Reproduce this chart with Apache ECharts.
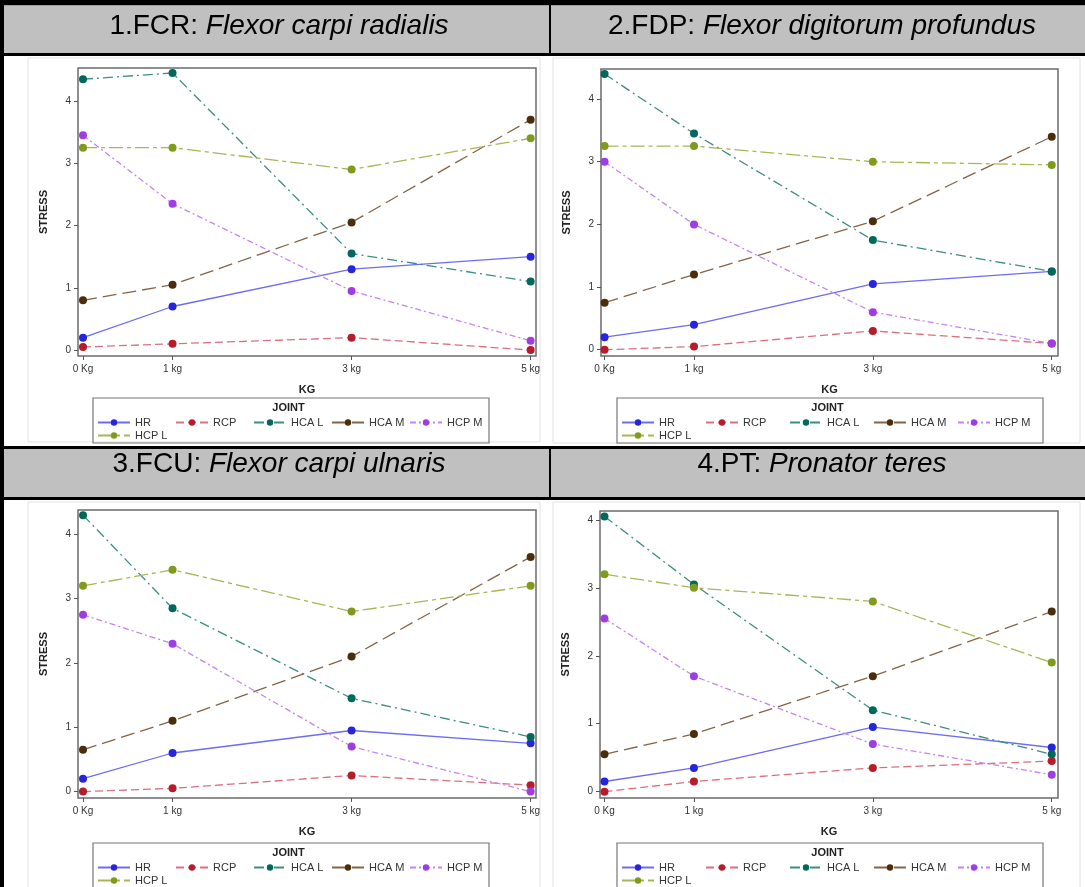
<!DOCTYPE html>
<html>
<head>
<meta charset="utf-8">
<title>Stress by joint and load</title>
<script src="https://cdn.jsdelivr.net/npm/echarts@6/dist/echarts.min.js"></script>
<style>
  html, body { margin: 0; padding: 0; background: #fff; }
  #chart { width: 1085px; height: 887px; }
</style>
</head>
<body>
<div id="chart"></div>
<script>
// loads on the x axis and their tick labels
var loads = [0, 1, 3, 5];
var loadLabels = ['0 Kg', '1 kg', '3 kg', '5 kg'];
var stressTicks = [0, 1, 2, 3, 4];
var joints = ['HR', 'RCP', 'HCA L', 'HCA M', 'HCP M', 'HCP L'];

// stress per joint (rows follow joints), one value per load
var fcrStress = [
  [0.2, 0.7, 1.3, 1.5],
  [0.05, 0.1, 0.2, 0.0],
  [4.35, 4.45, 1.55, 1.1],
  [0.8, 1.05, 2.05, 3.7],
  [3.45, 2.35, 0.95, 0.15],
  [3.25, 3.25, 2.9, 3.4]
];
var fdpStress = [
  [0.2, 0.4, 1.05, 1.25],
  [0.0, 0.05, 0.3, 0.1],
  [4.4, 3.45, 1.75, 1.25],
  [0.75, 1.2, 2.05, 3.4],
  [3.0, 2.0, 0.6, 0.1],
  [3.25, 3.25, 3.0, 2.95]
];
var fcuStress = [
  [0.2, 0.6, 0.95, 0.75],
  [0.0, 0.05, 0.25, 0.1],
  [4.3, 2.85, 1.45, 0.85],
  [0.65, 1.1, 2.1, 3.65],
  [2.75, 2.3, 0.7, 0.0],
  [3.2, 3.45, 2.8, 3.2]
];
var ptStress = [
  [0.15, 0.35, 0.95, 0.65],
  [0.0, 0.15, 0.35, 0.45],
  [4.05, 3.05, 1.2, 0.55],
  [0.55, 0.85, 1.7, 2.65],
  [2.55, 1.7, 0.7, 0.25],
  [3.2, 3.0, 2.8, 1.9]
];

var muscleCodes = ['1.FCR: ', '2.FDP: ', '3.FCU: ', '4.PT: '];
var muscleNames = ['Flexor carpi radialis', 'Flexor digitorum profundus', 'Flexor carpi ulnaris', 'Pronator teres'];

// layout of the four cells
var panels = [
  {stress: fcrStress, grid: [78, 68, 458, 288], x: [-0.056, 5.06], y: [-0.095, 4.53], legend: [93, 398], textW: 38, title: [279, 26], frame: [28, 58, 512, 384]},
  {stress: fdpStress, grid: [601, 69, 457, 287], x: [-0.04, 5.07], y: [-0.1, 4.48], legend: [617, 398], textW: 44, title: [822, 26], frame: [553, 58, 527, 385]},
  {stress: fcuStress, grid: [78, 510, 458, 288], x: [-0.056, 5.06], y: [-0.1, 4.38], legend: [93, 843], textW: 38, title: [279, 464], frame: [28, 502, 512, 390]},
  {stress: ptStress, grid: [600, 511, 458, 287], x: [-0.05, 5.07], y: [-0.093, 4.13], legend: [617, 843], textW: 44, title: [822, 464], frame: [553, 502, 527, 390]}
];

var jointStyles = [
  {marker: '#2525dd', line: '#6c6cf2', dash: 'solid'},
  {marker: '#b71c2b', line: '#d9707c', dash: [8, 4]},
  {marker: '#00695c', line: '#3c8d83', dash: [10, 4, 2, 4]},
  {marker: '#4b2d0c', line: '#846446', dash: [14, 6]},
  {marker: '#a03ce4', line: '#c684f2', dash: [6, 3, 2, 3]},
  {marker: '#7f9a1c', line: '#abb554', dash: [14, 4, 4, 4]}
];

var font = 'Liberation Sans, Arial, sans-serif';

var myChart = echarts.init(document.getElementById('chart'));

// table of the page: borders and grey header rows
var graphics = [
  {type: 'rect', shape: {x: 0, y: 0, width: 1085, height: 5.5}, style: {fill: '#000'}},
  {type: 'rect', shape: {x: 0, y: 0, width: 4, height: 887}, style: {fill: '#000'}},
  {type: 'rect', shape: {x: 4, y: 5.5, width: 1081, height: 47.5}, style: {fill: '#c0c0c0'}},
  {type: 'rect', shape: {x: 0, y: 53, width: 1085, height: 3}, style: {fill: '#000'}},
  {type: 'rect', shape: {x: 549, y: 5, width: 2, height: 49}, style: {fill: '#000'}},
  {type: 'rect', shape: {x: 0, y: 446, width: 1085, height: 3}, style: {fill: '#000'}},
  {type: 'rect', shape: {x: 4, y: 449, width: 1081, height: 48}, style: {fill: '#c0c0c0'}},
  {type: 'rect', shape: {x: 0, y: 497, width: 1085, height: 3}, style: {fill: '#000'}},
  {type: 'rect', shape: {x: 549, y: 447, width: 2, height: 52}, style: {fill: '#000'}}
];

var option = {
  animation: false,
  backgroundColor: '#fff',
  textStyle: {fontFamily: font},
  grid: [],
  xAxis: [],
  yAxis: [],
  legend: [],
  series: [],
  graphic: {elements: graphics}
};

panels.forEach(function (p, i) {
  // content width of one legend row of five items
  var rowW = 5 * (p.textW + 37) + 4 * 2;

  graphics.push({
    type: 'rect', z: -1,
    shape: {x: p.frame[0], y: p.frame[1], width: p.frame[2], height: p.frame[3]},
    style: {fill: null, stroke: '#e2e2e2', lineWidth: 1}
  });
  graphics.push({
    type: 'text', x: p.title[0], y: p.title[1],
    style: {
      text: '{n|' + muscleCodes[i] + '}{i|' + muscleNames[i] + '}',
      align: 'center', verticalAlign: 'middle',
      rich: {
        n: {fontSize: 28, fontFamily: font, fill: '#000'},
        i: {fontSize: 28, fontFamily: font, fontStyle: 'italic', fill: '#000'}
      }
    }
  });

  option.grid.push({
    left: p.grid[0], top: p.grid[1], width: p.grid[2], height: p.grid[3],
    show: true, backgroundColor: '#fff', borderColor: '#6b6b6b', borderWidth: 1.5
  });

  option.xAxis.push({
    type: 'value', gridIndex: i, min: p.x[0], max: p.x[1],
    name: 'KG', nameLocation: 'middle', nameGap: 28,
    nameTextStyle: {fontSize: 11, fontWeight: 'bold', color: '#222', fontFamily: font},
    axisLine: {show: false, onZero: false},
    axisTick: {show: true, customValues: loads, length: 4, lineStyle: {color: '#555'}},
    axisLabel: {
      customValues: loads, margin: 8, fontSize: 10, color: '#333',
      formatter: function (v) { return loadLabels[loads.indexOf(v)]; }
    },
    splitLine: {show: false}
  });

  option.yAxis.push({
    type: 'value', gridIndex: i, min: p.y[0], max: p.y[1],
    name: 'STRESS', nameLocation: 'middle', nameGap: 29, nameRotate: 90,
    nameTextStyle: {fontSize: 11, fontWeight: 'bold', color: '#222', fontFamily: font},
    axisLine: {show: false, onZero: false},
    axisTick: {show: true, customValues: stressTicks, length: 4, lineStyle: {color: '#555'}},
    axisLabel: {customValues: stressTicks, margin: 7, fontSize: 10, color: '#333'},
    splitLine: {show: false}
  });

  joints.forEach(function (j, k) {
    var s = jointStyles[k];
    option.series.push({
      type: 'line', name: j, xAxisIndex: i, yAxisIndex: i,
      data: loads.map(function (x, n) { return [x, p.stress[k][n]]; }),
      symbol: 'circle', symbolSize: 8,
      itemStyle: {color: s.marker},
      lineStyle: {color: s.line, width: 1.3, type: s.dash},
      emphasis: {disabled: true}
    });
  });

  option.legend.push({
    left: p.legend[0], top: p.legend[1], width: rowW + 8 + 6,
    orient: 'horizontal', align: 'left',
    padding: [19, 4, 2, 4],
    itemWidth: 32, itemHeight: 8, itemGap: 2,
    borderColor: '#777', borderWidth: 1.2,
    selectedMode: false,
    textStyle: {fontSize: 11, color: '#333', width: p.textW, lineHeight: 10, overflow: 'truncate', fontFamily: font},
    data: joints
  });

  graphics.push({
    type: 'text', x: p.legend[0] + (rowW + 8) / 2, y: p.legend[1] + 10,
    style: {text: 'JOINT', align: 'center', verticalAlign: 'middle', fontSize: 11, fontWeight: 'bold', fontFamily: font, fill: '#222'}
  });
});

myChart.setOption(option);
</script>
</body>
</html>
